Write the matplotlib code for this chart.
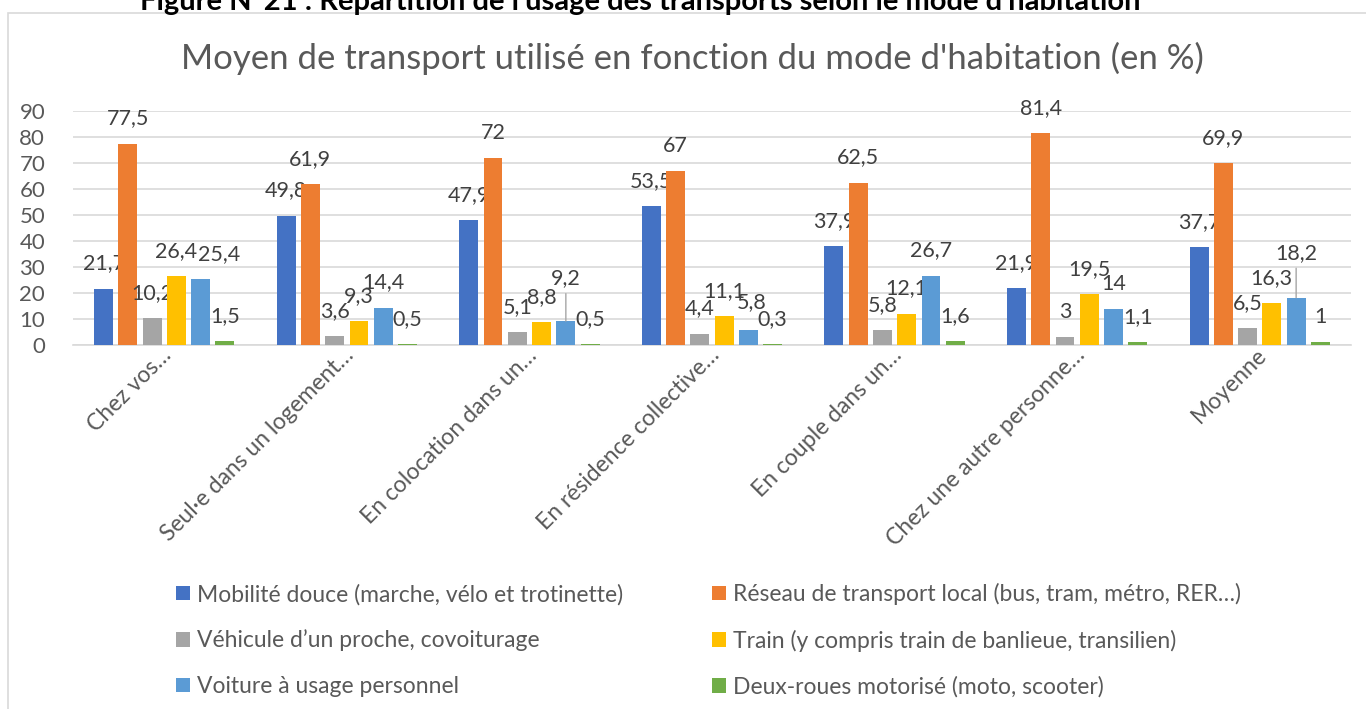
import numpy as np
import matplotlib.pyplot as plt
from matplotlib.patches import Rectangle
from matplotlib.transforms import ScaledTranslation

plt.rcParams['font.family'] = ['Lato', 'DejaVu Sans']

categories = ['Chez vos…', 'Seul·e dans un logement…', 'En colocation dans un…',
              'En résidence collective…', 'En couple dans un…',
              'Chez une autre personne…', 'Moyenne']
series_names = ['Mobilité douce (marche, vélo et trotinette)',
                'Réseau de transport local (bus, tram, métro, RER…)',
                'Véhicule d’un proche, covoiturage',
                'Train (y compris train de banlieue, transilien)',
                'Voiture à usage personnel',
                'Deux-roues motorisé (moto, scooter)']
mobilite = [21.7, 49.8, 47.9, 53.5, 37.9, 21.9, 37.7]
reseau = [77.5, 61.9, 72, 67, 62.5, 81.4, 69.9]
vehicule = [10.2, 3.6, 5.1, 4.4, 5.8, 3, 6.5]
train = [26.4, 9.3, 8.8, 11.1, 12.1, 19.5, 16.3]
voiture = [25.4, 14.4, 9.2, 5.8, 26.7, 14, 18.2]
deux_roues = [1.5, 0.5, 0.5, 0.3, 1.6, 1.1, 1]
series = [mobilite, reseau, vehicule, train, voiture, deux_roues]

colors = ['#4472C4', '#ED7D31', '#A5A5A5', '#FFC000', '#5B9BD5', '#70AD47']
txt = '#595959'

# label nudges in pixels (group, series) -> (dx, dy), like excel moved them
nudge = {(0, 4): (18, 0), (2, 4): (0, 18), (3, 4): (3, 3), (6, 4): (0, 20)}

fig = plt.figure(figsize=(13.66, 7.09), dpi=100)
W, H = 1366, 709

# chart frame
fig.patches.append(Rectangle((8 / W, -0.05), 1.2, 1 - 13 / H + 0.05, transform=fig.transFigure,
                             fill=False, edgecolor='#D9D9D9', lw=1.2))

fig.text(640 / W, 1 - 10 / H,
         "Figure N°21 : Répartition de l'usage des transports selon le mode d'habitation",
         ha='center', va='baseline', fontsize=21, fontweight='bold', color='black')

fig.text(692 / W, 1 - 58 / H, "Moyen de transport utilisé en fonction du mode d'habitation (en %)",
         ha='center', va='center', fontsize=25, color=txt)

ax = fig.add_axes([73 / W, 1 - 345 / H, (1351 - 73) / W, (345 - 111) / H])

x = np.arange(len(categories))
step = 0.133
width = 0.104
bars = []
for i, vals in enumerate(series):
    xs = x + (i - 2.5) * step
    b = ax.bar(xs, vals, width, color=colors[i], label=series_names[i], zorder=3)
    bars.append(b)
    for g, (xx, v) in enumerate(zip(xs, vals)):
        dx, dy = nudge.get((g, i), (0, 0))
        lab = f'{v:g}'.replace('.', ',')
        if dy > 8:
            ax.annotate(lab, (xx, v), xytext=(dx, 25 + dy), textcoords='offset pixels',
                        ha='center', va='center', fontsize=15.5, color='#404040',
                        arrowprops=dict(arrowstyle='-', color='#A6A6A6', lw=1,
                                        shrinkA=2, shrinkB=0))
        else:
            ax.annotate(lab, (xx, v), xytext=(dx, 25 + dy), textcoords='offset pixels',
                        ha='center', va='center', fontsize=15.5, color='#404040')

ax.set_xlim(-0.5, 6.5)
ax.set_ylim(0, 90)
ax.set_yticks(range(0, 91, 10))
ax.yaxis.grid(True, color='#D9D9D9', lw=1.2, zorder=0)
ax.set_axisbelow(True)
for s in ['top', 'right', 'left']:
    ax.spines[s].set_visible(False)
ax.spines['bottom'].set_color('#D9D9D9')
ax.spines['bottom'].set_linewidth(1.2)
ax.tick_params(axis='both', length=0, labelsize=16, labelcolor=txt)
ax.tick_params(axis='y', pad=20)

ax.set_xticks(x)
ax.set_xticklabels(categories, rotation=45, ha='right', va='center', rotation_mode='anchor',
                   fontsize=16.5)
off = ScaledTranslation(4 / 100, -2 / 100, fig.dpi_scale_trans)
for t in ax.get_xticklabels():
    t.set_transform(t.get_transform() + off)

order = [0, 2, 4, 1, 3, 5]
fig.legend([bars[i] for i in order], [series_names[i] for i in order],
           ncol=2, loc='upper left', bbox_to_anchor=(176 / W, 1 - 583 / H),
           frameon=False, fontsize=16.5, labelcolor=txt,
           handlelength=0.6, handleheight=0.6, handletextpad=0.3,
           labelspacing=1.07, columnspacing=3.9, borderaxespad=0, borderpad=0)

fig.savefig('out.png', dpi=100)
